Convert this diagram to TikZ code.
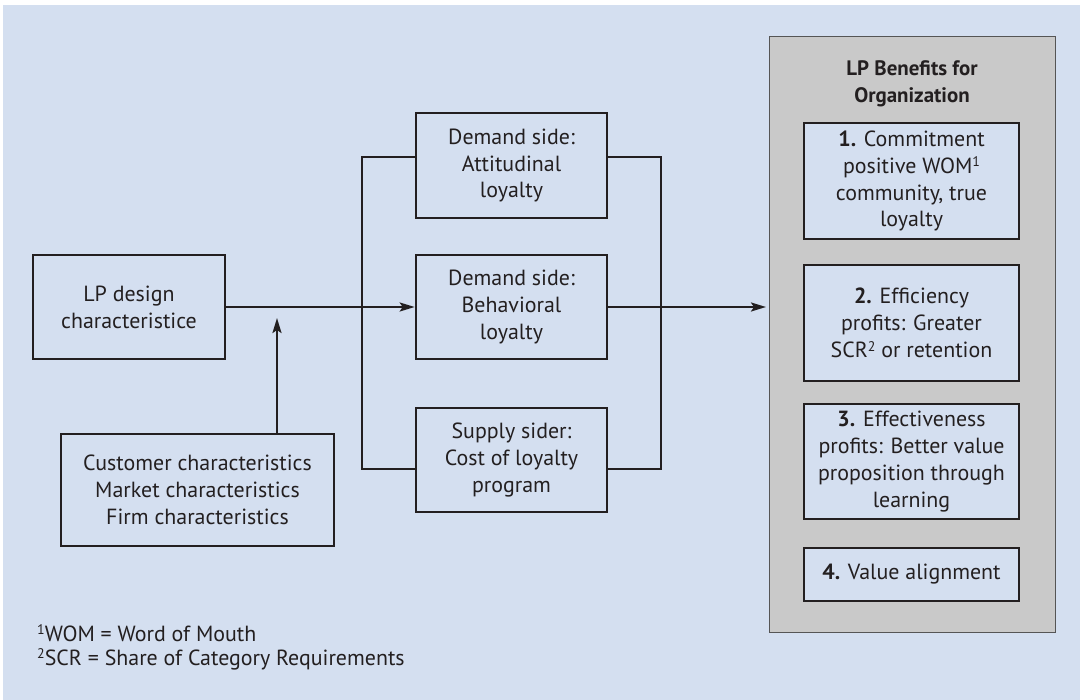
\documentclass[tikz,border=0pt]{standalone}
\usepackage{fontspec}
\setmainfont{PT Sans}
\usetikzlibrary{arrows.meta}
\definecolor{bgblue}{HTML}{D4DFF0}
\definecolor{panelgray}{HTML}{C9C9C9}
\definecolor{ink}{HTML}{231F20}
\definecolor{panelline}{HTML}{555555}
\newcommand{\supnum}[1]{\raisebox{0.3em}{\fontsize{14}{14}\selectfont #1}}
\tikzset{
  box/.style={draw=ink, line width=2.6bp, fill=bgblue, align=center, inner sep=0pt,
    text=ink, font=\fontsize{22}{27}\selectfont},
  conn/.style={draw=ink, line width=2.2bp},
  arr/.style={conn, -{Stealth[length=15bp,width=9bp,inset=3bp]}},
  fnote/.style={anchor=base west, inner sep=0pt, text=ink, font=\fontsize{22}{24}\selectfont},
}
\begin{document}
\begin{tikzpicture}[x=1bp,y=-1bp]
\useasboundingbox (0,0) rectangle (1080,700);
\fill[white] (0,0) rectangle (1080,700);
\fill[bgblue] (3,5) rectangle (1080,700);
% right panel
\filldraw[fill=panelgray, draw=panelline, line width=1bp] (769,37) rectangle (1055,632);
\node[text=ink, font=\fontsize{21}{27}\selectfont\bfseries, align=center] (title) at (912,84) {LP Benefits for\\Organization};
\node[box, minimum width=215bp, minimum height=116bp] (b1) at (911.5,181) {\textbf{1.} Commitment\\positive WOM\supnum{1}\\community, true\\loyalty};
\node[box, minimum width=215bp, minimum height=116bp] (b2) at (911.5,323) {\textbf{2.} Efficiency\\profits: Greater\\SCR\supnum{2} or retention};
\node[box, minimum width=215bp, minimum height=115bp] (b3) at (911.5,461.5) {\textbf{3.} Effectiveness\\profits: Better value\\proposition through\\learning};
\node[box, minimum width=215bp, minimum height=53bp] (b4) at (911.5,574.5) {\textbf{4.} Value alignment};
% left boxes
\node[box, minimum width=192bp, minimum height=104bp] (lp) at (129,307) {LP design\\characteristice};
\node[box, minimum width=273bp, minimum height=112bp] (cust) at (197.5,490) {Customer characteristics\\Market characteristics\\Firm characteristics};
% middle boxes
\node[box, minimum width=191bp, minimum height=105bp] (att) at (511.5,165.5) {Demand side:\\Attitudinal\\loyalty};
\node[box, minimum width=191bp, minimum height=104bp] (beh) at (511.5,307) {Demand side:\\Behavioral\\loyalty};
\node[box, minimum width=191bp, minimum height=104bp] (sup) at (511.5,460) {Supply sider:\\Cost of loyalty\\program};
% coordinates
\coordinate (lt) at (362,157);
\coordinate (lb) at (362,469);
\coordinate (rt) at (661,157);
\coordinate (rb) at (661,469);
\coordinate (tip) at (277,318);
\coordinate (out) at (766,307);
% connectors
\draw[arr] (lp.east) -- (beh.west);
\draw[conn] (att.west |- lt) -- (lt) -- (lb) -- (sup.west |- lb);
\draw[conn] (att.east |- rt) -- (rt) -- (rb) -- (sup.east |- rb);
\draw[arr] (beh.east) -- (out);
\draw[arr] (cust.north -| tip) -- (tip);
% footnotes
\node[fnote] (fn1) at (37,641) {\supnum{1}WOM = Word of Mouth};
\node[fnote] (fn2) at (37,665) {\supnum{2}SCR = Share of Category Requirements};
\end{tikzpicture}
\end{document}
